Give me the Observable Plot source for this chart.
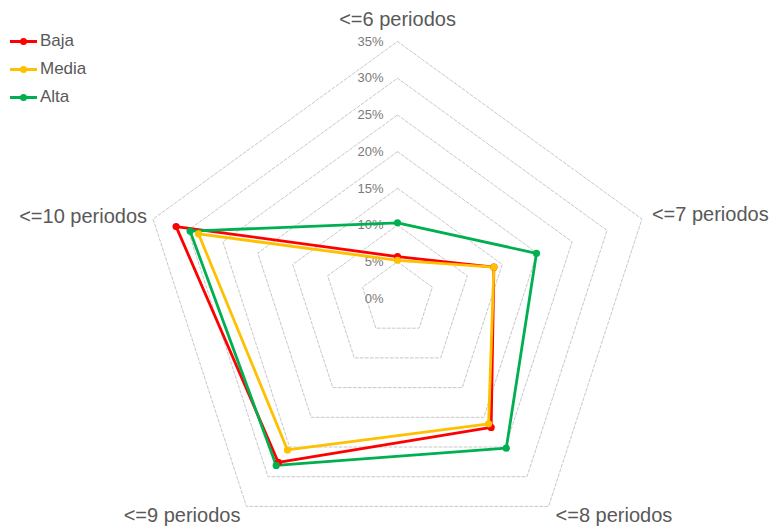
<!DOCTYPE html>
<html>
<head>
<meta charset="utf-8">
<script src="https://cdn.jsdelivr.net/npm/d3@7"></script>
<script src="https://cdn.jsdelivr.net/npm/@observablehq/plot@0.6"></script>
<style>
  html, body { margin: 0; padding: 0; background: #fff; }
  #wrap { position: relative; width: 774px; height: 529px; font-family: "Liberation Sans", Arial, sans-serif; }
  #legend { position: absolute; left: 10px; top: 27px; font-size: 17px; color: #595959; }
  .item { display: flex; align-items: center; height: 28px; }
  .sw { position: relative; width: 27px; height: 12px; margin-right: 3px; }
  .sw .ln { position: absolute; left: 0; right: 0; top: 5px; height: 3px; }
  .sw .dt { position: absolute; left: 10px; top: 3px; width: 7px; height: 7px; border-radius: 50%; }
</style>
</head>
<body>
<div id="wrap"><div id="chart"></div><div id="legend"></div></div>
<script>
const categories = ["<=6 periodos", "<=7 periodos", "<=8 periodos", "<=9 periodos", "<=10 periodos"];
const series = ["Baja", "Media", "Alta"];
const baja  = [5.7, 13.8, 21.7, 27.6, 31.7];
const media = [5.2, 13.8, 21.1, 25.5, 28.5];
const alta  = [10.3, 19.9, 25.2, 28.1, 29.7];
const colors = ["#FF0000", "#FFC000", "#00B050"];
const tickValues = [0, 5, 10, 15, 20, 25, 30, 35];

const W = 774, H = 529, cx = 397, cy = 298, rMax = 257, vMax = 35;
const k = rMax / vMax;
const angle = i => (90 - i * 72) * Math.PI / 180;
const px = (v, i) => v * Math.cos(angle(i));
const py = (v, i) => v * Math.sin(angle(i));

// grid rings (closed pentagons)
const rings = [];
for (const t of tickValues.filter(t => t > 0)) {
  for (let i = 0; i <= categories.length; i++) {
    const j = i % categories.length;
    rings.push({ring: t, x: px(t, j), y: py(t, j)});
  }
}

// data rows
const valuesBySeries = [baja, media, alta];
const lines = [];
const points = [];
series.forEach((s, si) => {
  const vals = valuesBySeries[si];
  for (let i = 0; i <= categories.length; i++) {
    const j = i % categories.length;
    const row = {series: s, cat: categories[j], value: vals[j], x: px(vals[j], j), y: py(vals[j], j)};
    lines.push(row);
    if (i < categories.length) points.push(row);
  }
});

const labelPos = [
  {dx: 0, dy: -22, anchor: "middle"},
  {dx: 10, dy: -4, anchor: "start"},
  {dx: 7, dy: 9, anchor: "start"},
  {dx: -6, dy: 9, anchor: "end"},
  {dx: -6, dy: -2, anchor: "end"}
];
const catLabels = categories.map((c, i) => ({label: c, x: px(vMax, i), y: py(vMax, i), i}));

const colorScale = {domain: series, range: colors};

const marks = [
  Plot.line(rings, {x: "x", y: "y", z: "ring", stroke: "#c8c8c8", strokeWidth: 1, strokeDasharray: "3,2"}),
  Plot.text(tickValues, {x: 0, y: d => d, text: d => d + "%", textAnchor: "end", dx: -14, fontSize: 13, fill: "#7a7a7a"}),
  Plot.line(lines, {x: "x", y: "y", z: "series", stroke: "series", strokeWidth: 2.8, strokeLinejoin: "round"}),
  Plot.dot(points, {x: "x", y: "y", fill: "series", r: 3.6})
];
for (let i = 0; i < categories.length; i++) {
  const p = labelPos[i];
  marks.push(Plot.text(catLabels.filter(d => d.i === i), {
    x: "x", y: "y", text: "label", textAnchor: p.anchor, dx: p.dx, dy: p.dy,
    fontSize: 20, fill: "#595959"
  }));
}

const chart = Plot.plot({
  width: W, height: H, margin: 0,
  style: {fontFamily: "'Liberation Sans', Arial, sans-serif", background: "#fff"},
  x: {domain: [-cx / k, (W - cx) / k], range: [0, W], axis: null},
  y: {domain: [-(H - cy) / k, cy / k], range: [H, 0], axis: null},
  color: colorScale,
  marks
});
document.getElementById("chart").appendChild(chart);

const legend = document.getElementById("legend");
series.forEach((s, i) => {
  const it = document.createElement("div");
  it.className = "item";
  it.innerHTML = `<span class="sw"><span class="ln" style="background:${colors[i]}"></span><span class="dt" style="background:${colors[i]}"></span></span><span>${s}</span>`;
  legend.appendChild(it);
});
</script>
</body>
</html>
